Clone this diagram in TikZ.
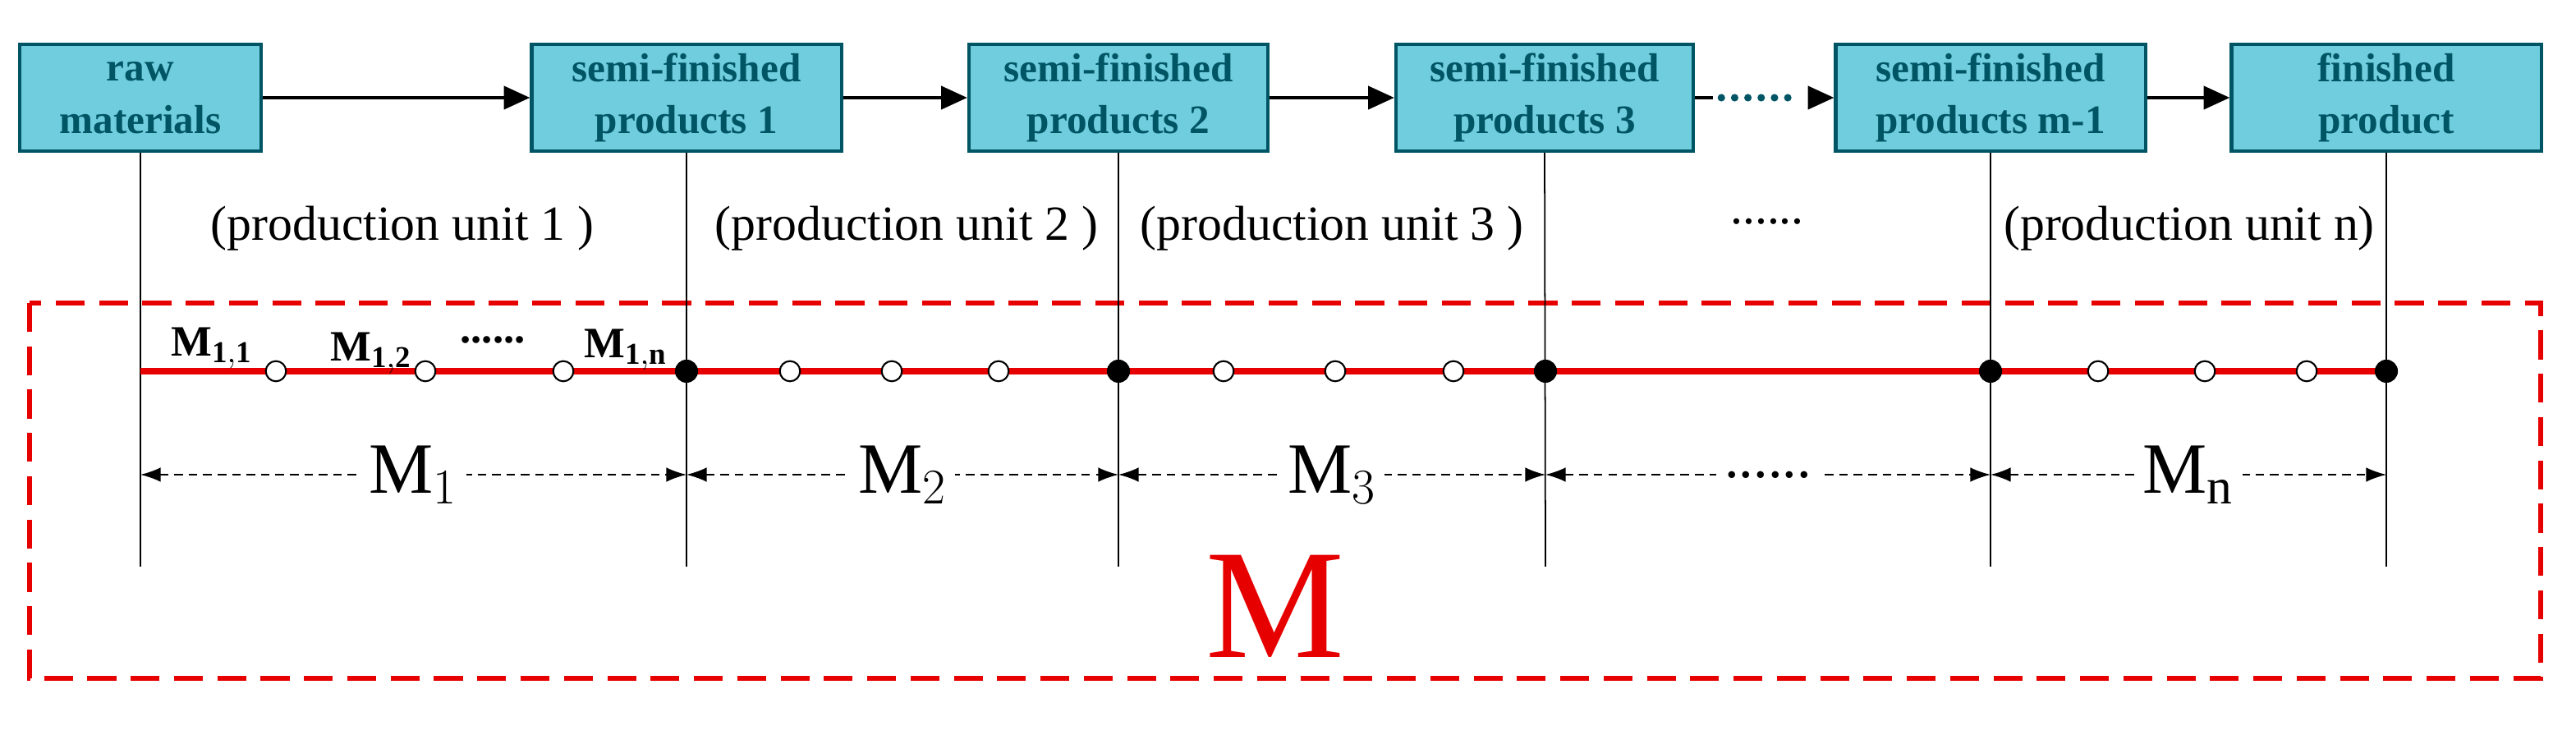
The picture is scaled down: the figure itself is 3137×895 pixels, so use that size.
\documentclass[tikz,border=0pt]{standalone}
\usepackage{fontspec}
\setmainfont{Liberation Serif}
\usetikzlibrary{arrows.meta}
\definecolor{boxfill}{RGB}{112,205,222}
\definecolor{boxline}{RGB}{0,85,100}
\definecolor{redl}{RGB}{230,0,0}
\begin{document}
\begin{tikzpicture}[x=0.01cm,y=-0.01cm,
  box/.style={draw=boxline,line width=1.2pt,fill=boxfill,minimum height=1.3cm,inner sep=0pt,
    text=boxline,font=\fontsize{14}{18}\selectfont\bfseries,align=center},
  vl/.style={line width=0.5pt},
  flow/.style={line width=1pt,-{Triangle[length=9pt,width=8pt]}},
  open/.style={circle,draw,fill=white,line width=0.6pt,minimum size=7pt,inner sep=0pt},
  full/.style={circle,fill=black,minimum size=8pt,inner sep=0pt},
  unit/.style={font=\fontsize{17}{20}\selectfont,inner sep=0pt},
  dim/.style={densely dashed,line width=0.5pt,{Latex[length=7pt,width=5pt]}-{Latex[length=7pt,width=5pt]}},
  dl/.style={fill=white,inner sep=3pt,font=\fontsize{25}{30}\selectfont},
  ml/.style={font=\fontsize{15}{18}\selectfont\bfseries,inner sep=0pt}]
\useasboundingbox (0,0) rectangle (3137,895);
% boxes
\node[box,minimum width=2.94cm] (b0) at (171,119) {raw\\materials};
\node[box,minimum width=3.77cm] (b1) at (836,119) {semi-finished\\products 1};
\node[box,minimum width=3.64cm] (b2) at (1362,119) {semi-finished\\products 2};
\node[box,minimum width=3.62cm] (b3) at (1881,119) {semi-finished\\products 3};
\node[box,minimum width=3.77cm] (b4) at (2424,119) {semi-finished\\products m-1};
\node[box,minimum width=3.77cm] (b5) at (2906,119) {finished\\product};
% flow arrows
\draw[flow] (b0) -- (b1);
\draw[flow] (b1) -- (b2);
\draw[flow] (b2) -- (b3);
\draw[line width=1pt] (b3.east) -- ++(22,0) coordinate (d0);
\draw[boxline,line width=2.6pt,dash pattern=on 0pt off 4.6pt,line cap=round] (d0) ++(10,0) -- ([xshift=-12pt]b4.west);
\draw[-{Triangle[length=9pt,width=8pt]},line width=1pt] ([xshift=-6pt]b4.west) -- (b4.west);
\draw[flow] (b4) -- (b5);
% dashed frame
\draw[redl,line width=1.6pt,dash pattern=on 10pt off 5pt] (36,369) rectangle (3094,826);
% vertical lines
\foreach \b/\x in {b0/171,b1/836,b2/1362,b3/1882,b4/2424,b5/2906}{
  \coordinate (v\b) at (\x,690);
  \draw[vl] (\b.south) -- (v\b);
}
% red line with points
\coordinate (r0) at (171,452);
\coordinate (r5) at (2906,452);
\draw[redl,line width=2.2pt] (r0) -- (r5);
\foreach \x [count=\i] in {336,518,686,962,1086,1216,1490,1626,1770,2555,2685,2809}
  \node[open] (o\i) at (\x,452) {};
\foreach \x [count=\i] in {836,1362,1882,2424,2906}
  \node[full] (f\i) at (\x,452) {};
% M_{i,j} labels
\node[ml,anchor=base] (m11) at (258,434) {M$_{\mathbf{1,1}}$};
\node[ml,anchor=base] (m12) at (452,440) {M$_{\mathbf{1,2}}$};
\node[ml,anchor=base] (mdots) at (600,418) {\textbf{......}};
\node[ml,anchor=base] (m1n) at (762,436) {M$_{\mathbf{1,n}}$};
% production unit labels
\node[unit] (u1) at (490,278) {(production unit 1 )};
\node[unit] (u2) at (1104,278) {(production unit 2 )};
\node[unit] (u3) at (1622,278) {(production unit 3 )};
\node[unit] (u4) at (2152,270) {......};
\node[unit] (u5) at (2666,278) {(production unit n)};
% dimension arrows
\foreach \a/\b/\t [count=\i] in {171/836/{M$_1$},836/1362/{M$_2$},1362/1882/{M$_3$},1882/2424/{\fontsize{20}{24}\selectfont......},2424/2906/{M$_\mathrm{n}$}}{
  \coordinate (da\i) at (\a,578);
  \coordinate (db\i) at (\b,578);
  \draw[dim] (da\i) -- (db\i) node[dl,midway] (dl\i) {\t};
}
% big M
\node[text=redl,font=\fontsize{54}{60}\selectfont,inner sep=0pt] (M) at (1553,738) {M};
\end{tikzpicture}
\end{document}
